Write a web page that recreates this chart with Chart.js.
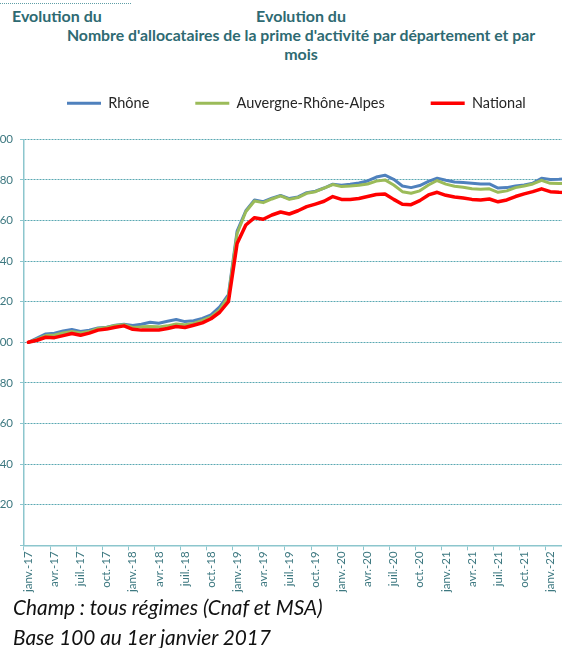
<!DOCTYPE html>
<html lang="fr">
<head>
<meta charset="utf-8">
<title>Prime d'activité – évolution du nombre d'allocataires</title>
<script src="https://cdn.jsdelivr.net/npm/chart.js@4.4.1/dist/chart.umd.min.js"></script>
<style>
  html, body { margin: 0; padding: 0; background: #fff; }
  body { width: 562px; height: 648px; overflow: hidden; position: relative; font-family: Lato, "Open Sans", sans-serif; }
  .rule { position: absolute; left: 0; top: 3px; width: 131px; border-top: 1px dotted #5f9ea6; }
  .t { position: absolute; font-weight: 700; color: #2e6a72; font-size: 16px; line-height: 1; white-space: nowrap; }
  .c { left: 0; width: 602px; text-align: center; }
  #chartBox { position: absolute; left: 0; top: 0; width: 620px; height: 600px; }
  .note { position: absolute; left: 13px; font-style: italic; font-size: 20.8px; line-height: 1; color: #111; white-space: nowrap; }
</style>
</head>
<body>
<div class="rule"></div>
<div class="t" style="left:12px; top:8px;">Evolution du</div>
<div class="t c" style="top:8px;">Evolution du</div>
<div class="t c" style="top:27px; font-size:15.8px;">Nombre d'allocataires de la prime d'activité par département et par</div>
<div class="t c" style="top:46px;">mois</div>

<div id="chartBox"><canvas id="chart" width="620" height="600"></canvas></div>

<div class="note" style="top:597px;">Champ : tous régimes (Cnaf et MSA)</div>
<div class="note" style="top:627px;">Base 100 au 1er janvier 2017</div>

<script>
// Monthly categories, janvier 2017 -> mars 2022
const monthAbbr = ['janv.', 'févr.', 'mars', 'avr.', 'mai', 'juin', 'juil.', 'août', 'sept.', 'oct.', 'nov.', 'déc.'];
const months = [];
for (let k = 0; k < 63; k++) {
  months.push(monthAbbr[k % 12] + '-' + (17 + Math.floor(k / 12)));
}

// Index base 100 au 1er janvier 2017
const rhone = [100, 102.1, 104.1, 104.5, 105.6, 106.3, 105.3, 106, 107.1, 107.4,
  108.4, 108.9, 108.3, 108.9, 109.9, 109.4, 110.4, 111.2, 110.2, 110.6,
  111.8, 113.5, 117.5, 123.5, 154.8, 164.8, 170.1, 169.3, 171, 172.3,
  170.8, 171.6, 173.7, 174.4, 176, 177.9, 177.4, 177.9, 178.5, 179.5,
  181.4, 182.3, 180.3, 177, 176.2, 177.2, 179.3, 180.8, 179.8, 179,
  178.7, 178.4, 178, 178, 176, 176.2, 177, 177.5, 178.4, 180.8,
  180.2, 180.3, 180.6];

const aura = [100, 101.6, 103.3, 103.6, 104.6, 105.3, 104.6, 105.3, 106.8, 107.3,
  108.3, 108.7, 107.3, 107.6, 107.8, 107.6, 108.1, 109, 108.6, 109.3,
  110.8, 112.5, 116, 122.5, 153.6, 164.3, 169.6, 168.8, 170.6, 172.1,
  170.4, 171.3, 173.4, 174.2, 175.9, 177.7, 176.7, 177, 177.4, 178,
  179.4, 180, 177.5, 174.2, 173.4, 174.6, 177.5, 179.7, 177.9, 176.9,
  176.4, 175.6, 175.4, 175.6, 173.9, 174.6, 176.2, 177, 178, 179.8,
  178.3, 178.2, 178.4];

const national = [100, 101, 102.5, 102.3, 103.3, 104.3, 103.5, 104.5, 106, 106.5,
  107.4, 108.1, 106.4, 106, 106.1, 106.1, 106.8, 107.8, 107.3, 108.4,
  109.6, 111.6, 114.8, 120, 148.7, 157.8, 161.4, 160.6, 162.7, 164.2,
  163.2, 164.8, 166.8, 168.1, 169.5, 171.8, 170.4, 170.4, 170.8, 171.8,
  172.8, 173.1, 170.4, 168, 167.8, 169.8, 172.6, 173.9, 172.4, 171.6,
  171.1, 170.4, 170.1, 170.6, 169.2, 170.1, 171.8, 173.1, 174.2, 175.6,
  174.2, 173.9, 173.8];

// Value axis
const yMin = 0, yMax = 200, yStep = 20;

const AXIS = '#8cc6cd';
const GRID = '#5aa8b2';
const TICK_TXT = '#3d7880';

// Legend row: pushed right a little, with extra room below it
const legendPlacement = {
  id: 'legendPlacement',
  beforeInit(chart) {
    const fit = chart.legend.fit;
    chart.legend.fit = function () {
      fit.call(this);
      this.height += 18.8;
    };
  },
  afterLayout(chart) {
    chart.legend.left += 21;
    chart.legend.right += 21;
  }
};

new Chart(document.getElementById('chart'), {
  type: 'line',
  data: {
    labels: months,
    datasets: [
      { label: 'Rhône', data: rhone, borderColor: '#4F81BD', backgroundColor: '#4F81BD', borderWidth: 3, order: 3 },
      { label: 'Auvergne-Rhône-Alpes', data: aura, borderColor: '#9BBB59', backgroundColor: '#9BBB59', borderWidth: 3, order: 2 },
      { label: 'National', data: national, borderColor: '#FF0000', backgroundColor: '#FF0000', borderWidth: 3.5, order: 1 }
    ]
  },
  options: {
    responsive: false,
    animation: false,
    layout: { padding: { left: 0, right: 48, top: 50, bottom: 0 } },
    elements: {
      point: { radius: 0, hoverRadius: 0 },
      line: { tension: 0, borderJoinStyle: 'round', borderCapStyle: 'round' }
    },
    plugins: {
      legend: {
        position: 'top',
        align: 'start',
        labels: {
          usePointStyle: true,
          pointStyle: 'line',
          pointStyleWidth: 34,
          padding: 46,
          color: '#262626',
          font: { family: 'Lato', size: 14.5 },
          sort: (a, b) => a.datasetIndex - b.datasetIndex
        }
      },
      tooltip: { enabled: false }
    },
    scales: {
      x: {
        type: 'category',
        offset: true,
        grid: {
          offset: true,
          drawOnChartArea: false,
          drawTicks: true,
          tickLength: 5,
          lineWidth: 1,
          tickColor: c => (c.index % 3 === 0 ? AXIS : 'rgba(0,0,0,0)')
        },
        border: { display: true, color: AXIS, width: 1.5 },
        ticks: {
          autoSkip: false,
          minRotation: 90,
          maxRotation: 90,
          padding: 1,
          color: TICK_TXT,
          font: { family: 'Lato', size: 11.5 },
          callback: function (v, i) { return i % 3 === 0 ? this.getLabelForValue(v) : ''; }
        },
        afterFit: s => { s.height = 54.7; }
      },
      y: {
        min: yMin,
        max: yMax,
        ticks: {
          stepSize: yStep,
          padding: 7,
          color: TICK_TXT,
          font: { family: 'Lato', size: 11.5 },
          callback: v => (v === 0 ? '' : v)
        },
        grid: {
          color: c => (c.tick && c.tick.value === 0 ? 'rgba(0,0,0,0)' : GRID),
          lineWidth: 1,
          tickLength: 4,
          tickColor: AXIS,
          tickBorderDash: []
        },
        border: { display: true, color: AXIS, width: 1.5, dash: [2, 1] },
        afterFit: s => { s.width = 24; }
      }
    }
  },
  plugins: [legendPlacement]
});
</script>
</body>
</html>
